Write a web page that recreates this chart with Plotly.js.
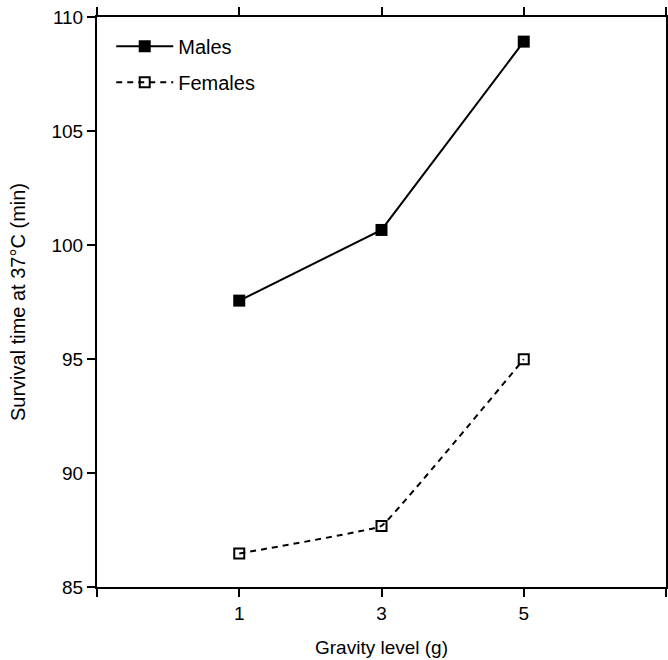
<!DOCTYPE html>
<html>
<head>
<meta charset="utf-8">
<script src="https://cdn.plot.ly/plotly-3.0.1.min.js"></script>
<style>html,body{margin:0;padding:0;background:#fff;}#chart{width:668px;height:660px;}</style>
</head>
<body>
<div id="chart"></div>
<script>
const gravity = [1, 3, 5];
const males = [97.56, 100.66, 108.92];
const females = [86.47, 87.68, 94.99];
const xTickVals = [-1, 1, 3, 5, 7];
const xTickText = ['', '1', '3', '5', ''];
const yTickVals = [85, 90, 95, 100, 105, 110];

const fam = 'Liberation Sans, Arial, sans-serif';
const tickFont = {family: fam, size: 19, color: '#000'};

const traces = [
  {x: gravity, y: males, name: 'Males', legendgroup: 'm', type: 'scatter', mode: 'lines+markers',
   line: {color: '#000', width: 2},
   marker: {symbol: 'square', size: 12, color: '#000'}},
  {x: gravity, y: females, name: 'Females', legendgroup: 'f', type: 'scatter', mode: 'lines+markers',
   line: {color: '#000', width: 2, dash: '6px,5px', shape: 'spline', smoothing: 0.15},
   marker: {symbol: 'square-open', size: 10, color: '#000', line: {width: 2, color: '#000'}}}
];

const layout = {
  width: 668, height: 660,
  margin: {l: 97, r: 2, t: 17, b: 73},
  paper_bgcolor: '#fff', plot_bgcolor: '#fff',
  font: tickFont,
  showlegend: true,
  legend: {x: 0.025, y: 0.983, xanchor: 'left', yanchor: 'top', bgcolor: 'rgba(0,0,0,0)',
           font: {family: fam, size: 20, color: '#000'}, tracegroupgap: 7, itemwidth: 57},
  xaxis: {range: [-1, 7], tickvals: xTickVals, ticktext: xTickText,
          showgrid: false, zeroline: false, showline: true, linecolor: '#000', linewidth: 2,
          mirror: 'ticks', ticks: 'outside', ticklen: 8, tickwidth: 2, tickcolor: '#000',
          tickfont: tickFont,
          title: {text: 'Gravity level (g)', font: {family: fam, size: 19, color: '#000'}, standoff: 18}},
  yaxis: {range: [85, 110], tickvals: yTickVals,
          showgrid: false, zeroline: false, showline: true, linecolor: '#000', linewidth: 2,
          mirror: true, ticks: 'outside', ticklen: 8, tickwidth: 2, tickcolor: '#000',
          tickfont: tickFont,
          title: {text: 'Survival time at 37°C (min)', font: {family: fam, size: 20, color: '#000'}, standoff: 20}},
  yaxis2: {range: [85, 110], tickvals: [90, 95, 100, 105], overlaying: 'y', side: 'right',
           showgrid: false, zeroline: false, showline: false, showticklabels: false,
           ticks: 'inside', ticklen: 6, tickwidth: 2, tickcolor: '#000'}
};

Plotly.newPlot('chart', traces, layout, {displayModeBar: false, staticPlot: true});
</script>
</body>
</html>
